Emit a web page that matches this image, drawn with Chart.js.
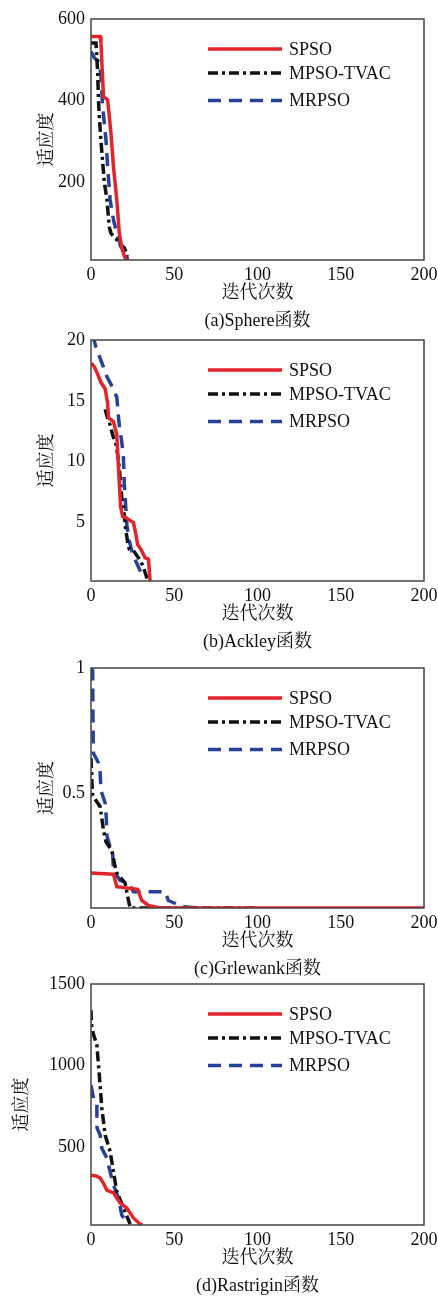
<!DOCTYPE html>
<html>
<head>
<meta charset="utf-8">
<script src="https://cdn.jsdelivr.net/npm/chart.js@4.4.1/dist/chart.umd.min.js"></script>
<style>
  body { margin: 0; background: #fff; width: 438px; height: 1298px; position: relative; overflow: hidden; }
  canvas { position: absolute; left: 0; }
</style>
</head>
<body>
<canvas id="chartA"></canvas>
<canvas id="chartB"></canvas>
<canvas id="chartC"></canvas>
<canvas id="chartD"></canvas>
<script>
// nombres de las series
var seriesNames = ['SPSO', 'MPSO-TVAC', 'MRPSO'];
var xTicks = [0, 50, 100, 150, 200];

// (a) Sphere
var sphereTicks = [200, 400, 600];
var sphereSpsoIter = [0, 5.5, 6, 7.5, 10, 12, 13.5, 15.5, 17, 18.5, 20, 21];
var sphereSpsoFit = [557, 557, 540, 410, 402, 320, 238, 157, 76, 40, 20, 10];
var sphereTvacIter = [0, 3, 4, 4.5, 5, 6, 7, 8, 9.5, 11, 12, 15, 17, 20, 22];
var sphereTvacFit = [541, 541, 470, 400, 360, 300, 250, 200, 160, 90, 75, 62, 50, 40, 20];
var sphereMrIter = [0, 2, 5, 6, 7, 9, 10, 11.5, 13.5, 15.5, 18, 21.5, 22];
var sphereMrFit = [520, 505, 495, 459, 385, 304, 238, 157, 108, 76, 42, 18, 10];

// (b) Ackley
var ackleyTicks = [5, 10, 15, 20];
var ackleySpsoIter = [0, 2, 4, 6, 8.5, 10, 10.5, 13.5, 15.5, 16.5, 17.8, 19, 21, 25.5, 27, 28, 30, 32.5, 34.5, 35.5];
var ackleySpsoFit = [18.1, 17.8, 17.2, 16.5, 16.0, 14.8, 13.6, 13.3, 12.2, 9.5, 6.3, 5.5, 5.4, 5.0, 4.0, 3.2, 2.8, 2.1, 2.0, 0.2];
var ackleyTvacIter = [8.5, 9.5, 11.5, 13, 15, 16, 17, 18.5, 20, 20.8, 22, 23, 26, 29, 31, 33, 34];
var ackleyTvacFit = [14.3, 13.8, 13.0, 12.2, 11.4, 10.6, 9.5, 7.0, 5.6, 4.5, 3.4, 2.8, 2.6, 2.0, 1.5, 0.7, 0.2];
var ackleyMrIter = [1, 3, 5.5, 8, 9.5, 13, 15.5, 16.3, 17, 18.5, 19.5, 20, 21, 21.5, 23, 25, 27, 29, 31];
var ackleyMrFit = [20.4, 19.4, 18.5, 17.6, 17.0, 16.1, 15.3, 14.0, 13.0, 11.6, 10.3, 8.2, 6.0, 4.8, 3.5, 2.4, 1.8, 1.2, 0.5];

// (c) Griewank
var griewankTicks = [0.5, 1];
var griewankSpsoIter = [0, 5, 13.5, 15.5, 28, 30.5, 34.5, 41.5, 200];
var griewankSpsoFit = [0.18, 0.178, 0.175, 0.125, 0.115, 0.07, 0.05, 0.04, 0.04];
var griewankTvacIter = [0, 0.5, 1, 3, 5.5, 7.5, 9, 12.5, 14.5, 15.5, 20.5, 22.5, 23.5, 100];
var griewankTvacFit = [0.64, 0.55, 0.49, 0.47, 0.445, 0.35, 0.305, 0.27, 0.205, 0.18, 0.14, 0.07, 0.04, 0.04];
var griewankMrIter = [0, 1, 1.2, 1.4, 3, 4.5, 5.5, 6, 8.5, 9.2, 9.5, 11.5, 13, 13.5, 17.5, 22.5, 25.5, 44.5, 46.5, 50, 55, 66];
var griewankMrFit = [1.0, 0.99, 0.8, 0.66, 0.64, 0.62, 0.58, 0.51, 0.46, 0.40, 0.33, 0.285, 0.26, 0.19, 0.15, 0.14, 0.105, 0.105, 0.07, 0.06, 0.045, 0.04];

// (d) Rastrigin
var rastriginTicks = [500, 1000, 1500];
var rastriginSpsoIter = [0, 3, 5.5, 8, 9.5, 13.5, 17.5, 21.5, 25.5, 29.5, 31];
var rastriginSpsoFit = [330, 325, 313, 270, 239, 221, 160, 129, 68, 30, 25];
var rastriginTvacIter = [0, 0.3, 1.5, 3.5, 5, 6.5, 8.5, 11.5, 13.5, 15.5, 19.5, 23.5];
var rastriginTvacFit = [1340, 1250, 1190, 1130, 940, 740, 575, 475, 350, 230, 130, 30];
var rastriginMrIter = [0, 1.5, 3.5, 3.6, 5.5, 6.5, 9.5, 11.5, 13.5, 16.5, 18.5, 22.5];
var rastriginMrFit = [880, 800, 780, 620, 575, 495, 435, 350, 270, 190, 85, 30];

/*=============================================
ESTILO
=============================================*/
var fuente = '"Liberation Serif", "Noto Serif CJK SC", "Noto Sans CJK SC", serif';
Chart.defaults.font.family = fuente;
Chart.defaults.font.size = 18;
Chart.defaults.color = '#111';

var colores = ['#e3242b', '#111111', '#27409a'];
var guiones = [[], [10, 4, 3, 4], [13, 8]];

function juntar(iter, fit) {
    return iter.map(function (x, i) { return { x: x, y: fit[i] }; });
}

// marco completo del area del grafico
var marco = {
    id: 'marco',
    afterDatasetsDraw: function (chart) {
        var a = chart.chartArea, ctx = chart.ctx;
        ctx.save();
        ctx.strokeStyle = '#444';
        ctx.lineWidth = 1.5;
        ctx.strokeRect(a.left, a.top, a.right - a.left, a.bottom - a.top);
        ctx.restore();
    }
};

// leyenda dentro del area
var leyenda = {
    id: 'leyenda',
    afterDraw: function (chart) {
        var a = chart.chartArea, ctx = chart.ctx;
        var filas = [30, 54, 81.5];
        ctx.save();
        chart.data.datasets.forEach(function (ds, i) {
            var y = a.top + filas[i];
            ctx.beginPath();
            ctx.setLineDash(ds.borderDash);
            ctx.strokeStyle = ds.borderColor;
            ctx.lineWidth = 3.5;
            ctx.moveTo(a.left + 117, y);
            ctx.lineTo(a.left + 191, y);
            ctx.stroke();
            ctx.setLineDash([]);
            ctx.fillStyle = '#111';
            ctx.font = '18px ' + fuente;
            ctx.textBaseline = 'middle';
            ctx.textAlign = 'left';
            ctx.fillText(ds.label, a.left + 198, y + 1);
        });
        ctx.restore();
    }
};

function grafico(id, top, areaH, yMin, yMax, yTicks, yTitlePad, caption, series) {
    var titleH = 18 * 1.2 + 6;
    var alto = Math.ceil(19 + areaH + 44 + titleH);
    var canvas = document.getElementById(id);
    canvas.width = 438;
    canvas.height = alto;
    canvas.style.top = (top - 19) + 'px';

    new Chart(canvas.getContext('2d'), {
        type: 'line',
        data: {
            datasets: series.map(function (s, i) {
                return {
                    label: seriesNames[i],
                    data: s,
                    borderColor: colores[i],
                    borderDash: guiones[i],
                    borderWidth: 3.5,
                    pointRadius: 0,
                    tension: 0,
                    fill: false
                };
            })
        },
        options: {
            responsive: false,
            animation: false,
            devicePixelRatio: 1,
            layout: {
                padding: { top: 19, right: 14, left: 0, bottom: alto - (19 + areaH + 44 + titleH) }
            },
            plugins: {
                legend: { display: false },
                tooltip: { enabled: false },
                title: {
                    display: true,
                    text: caption,
                    position: 'bottom',
                    fullSize: false,
                    font: { size: 18, weight: 'normal', lineHeight: 1.2 },
                    color: '#111',
                    padding: { top: 6, bottom: 0 }
                }
            },
            scales: {
                x: {
                    type: 'linear',
                    min: 0,
                    max: 200,
                    grid: { display: false, drawTicks: false },
                    border: { display: false },
                    afterBuildTicks: function (axis) {
                        axis.ticks = xTicks.map(function (v) { return { value: v }; });
                    },
                    afterFit: function (scale) {
                        scale.height = 44;
                        scale.paddingLeft = 0;
                        scale.paddingRight = 0;
                    },
                    ticks: { padding: 4, maxRotation: 0, callback: function (v) { return String(v); } },
                    title: { display: true, text: '迭代次数', padding: { top: 0, bottom: 0 }, font: { size: 18 } }
                },
                y: {
                    min: yMin,
                    max: yMax,
                    grid: { display: false, drawTicks: false },
                    border: { display: false },
                    afterBuildTicks: function (axis) {
                        axis.ticks = yTicks.map(function (v) { return { value: v }; });
                    },
                    afterFit: function (scale) {
                        scale.width = 91;
                        scale.paddingTop = 0;
                        scale.paddingBottom = 0;
                    },
                    ticks: { padding: 6, callback: function (v) { return String(v); } },
                    title: { display: true, text: '适应度', padding: { top: yTitlePad, bottom: 0 }, font: { size: 18 } }
                }
            }
        },
        plugins: [marco, leyenda]
    });
}

grafico('chartA', 19, 241, 10, 600, sphereTicks, 36, '(a)Sphere函数', [
    juntar(sphereSpsoIter, sphereSpsoFit),
    juntar(sphereTvacIter, sphereTvacFit),
    juntar(sphereMrIter, sphereMrFit)
]);
grafico('chartB', 340, 241, 0.2, 20, ackleyTicks, 36, '(b)Ackley函数', [
    juntar(ackleySpsoIter, ackleySpsoFit),
    juntar(ackleyTvacIter, ackleyTvacFit),
    juntar(ackleyMrIter, ackleyMrFit)
]);
grafico('chartC', 668, 240, 0.04, 1, griewankTicks, 36, '(c)Grlewank函数', [
    juntar(griewankSpsoIter, griewankSpsoFit),
    juntar(griewankTvacIter, griewankTvacFit),
    juntar(griewankMrIter, griewankMrFit)
]);
grafico('chartD', 984, 241, 25, 1500, rastriginTicks, 11, '(d)Rastrigin函数', [
    juntar(rastriginSpsoIter, rastriginSpsoFit),
    juntar(rastriginTvacIter, rastriginTvacFit),
    juntar(rastriginMrIter, rastriginMrFit)
]);
</script>
</body>
</html>
